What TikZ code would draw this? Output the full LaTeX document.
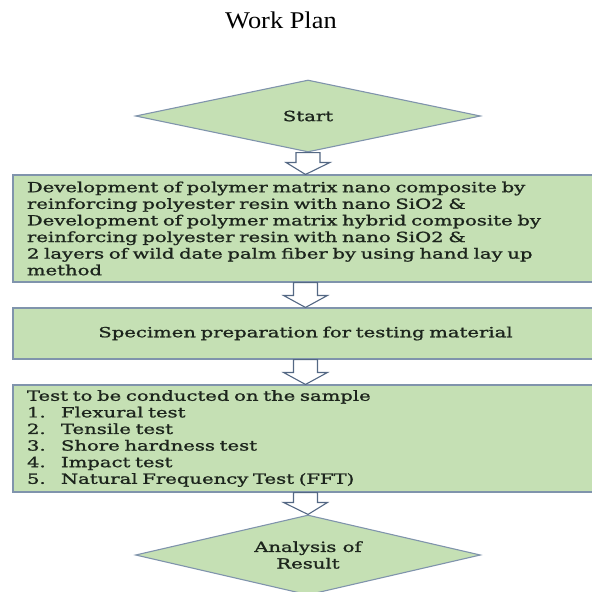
\documentclass[tikz,border=0pt]{standalone}
\usepackage{fontspec}
\setmainfont{DejaVu Serif}[FakeStretch=1.4, FakeBold=1.2]
\newfontfamily\titlefont{Liberation Serif}[FakeStretch=1.1]
\usetikzlibrary{shapes.geometric}
\definecolor{boxgreen}{RGB}{197,224,180}
\definecolor{boxline}{RGB}{128,148,172}
\definecolor{arrowline}{RGB}{84,104,132}
\definecolor{boxtext}{RGB}{28,36,28}
\tikzset{
  flowbox/.style={draw=boxline, line width=1.1pt, fill=boxgreen, text=boxtext,
    minimum width=585pt, inner xsep=14pt, font=\fontsize{14}{16.6}\selectfont},
  flowdiamond/.style={diamond, draw=boxline, line width=1.1pt, fill=boxgreen, text=boxtext,
    minimum width=345pt, inner sep=0pt, align=center, font=\fontsize{14}{16.6}\selectfont},
  flowarrow/.style={draw=arrowline, line width=1.1pt, fill=white, line join=miter},
}
% hollow block arrow from one node to the next
\newcommand\flowstep[2]{%
  \draw[flowarrow] let \p1=(#1.south), \p2=(#2.north) in
    (\x1-12pt,\y1) -- (\x1-12pt,\y2+12pt) -- (\x1-22pt,\y2+12pt) -- (\x2,\y2)
    -- (\x1+22pt,\y2+12pt) -- (\x1+12pt,\y2+12pt) -- (\x1+12pt,\y1) -- cycle;}
\usetikzlibrary{calc}
\begin{document}
\begin{tikzpicture}[x=1pt, y=-1pt]
\useasboundingbox (0,0) rectangle (592,592);
\clip (0,0) rectangle (592,592);
% title
\node (title) at (281,20) {\titlefont\fontsize{24}{28}\selectfont Work Plan};
% steps
\node[flowdiamond, minimum height=72pt, aspect=4.8] (start) at (308,116) {Start};
\node[flowbox, minimum height=107pt, text width=557pt, align=left] (dev) at (305.5,228.5)
  {Development of polymer matrix nano composite by\\
   reinforcing polyester resin with nano SiO2 \&\\
   Development of polymer matrix hybrid composite by\\
   reinforcing polyester resin with nano SiO2 \&\\
   2 layers of wild date palm fiber by using hand lay up\\
   method};
\node[flowbox, minimum height=51pt, text width=557pt, align=center] (spec) at (305.5,333.5)
  {Specimen preparation for testing material};
\node[flowbox, minimum height=107pt, text width=557pt, align=left] (test) at (305.5,438.5)
  {Test to be conducted on the sample\\
   \makebox[34pt][l]{1.}Flexural test\\
   \makebox[34pt][l]{2.}Tensile test\\
   \makebox[34pt][l]{3.}Shore hardness test\\
   \makebox[34pt][l]{4.}Impact test\\
   \makebox[34pt][l]{5.}Natural Frequency Test (FFT)};
\node[flowdiamond, minimum height=80pt, aspect=4.3] (result) at (308,555) {Analysis of\\Result};
% arrows
\flowstep{start}{dev}
\flowstep{dev}{spec}
\flowstep{spec}{test}
\flowstep{test}{result}
\end{tikzpicture}
\end{document}
